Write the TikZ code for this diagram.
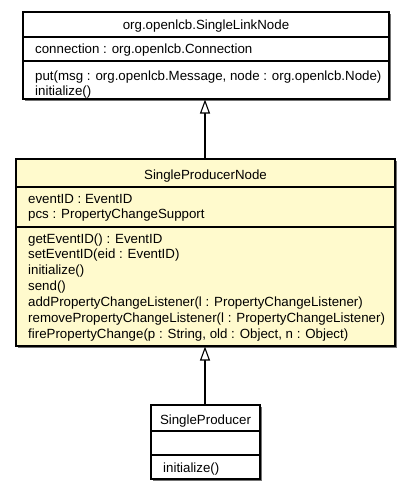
\documentclass[tikz,border=0pt]{standalone}
\usepackage{fontspec}
\setmainfont{Liberation Sans}
\usetikzlibrary{arrows.meta,shadows}
\definecolor{umlyellow}{RGB}{255,250,205}
\tikzset{
  classbox/.style={draw=black, line width=1.1pt, rectangle, inner sep=0pt,
    drop shadow={shadow xshift=1.6pt, shadow yshift=-1.6pt, fill=black!55, opacity=1}},
  divider/.style={draw=black, line width=1.1pt},
  txt/.style={inner sep=0pt, font=\fontsize{13.3}{15.5}\selectfont},
  inherit/.style={draw=black, line width=1.1pt, -{Triangle[open,length=14pt,width=10pt,fill=white]}}
}
\begin{document}
\begin{tikzpicture}[x=1pt,y=-1pt]
\useasboundingbox (0,0) rectangle (411,491);
% boxes
\node[classbox, fill=white, minimum width=366pt, minimum height=87pt] (b1) at (206,55.5) {};
\node[classbox, fill=umlyellow, minimum width=379pt, minimum height=187pt] (b2) at (205.5,252.5) {};
\node[classbox, fill=white, minimum width=109pt, minimum height=74pt] (b3) at (205.5,442) {};
% dividers
\draw[divider] (b1.west |- 0,37) -- (b1.east |- 0,37);
\draw[divider] (b1.west |- 0,61) -- (b1.east |- 0,61);
\draw[divider] (b2.west |- 0,187) -- (b2.east |- 0,187);
\draw[divider] (b2.west |- 0,227) -- (b2.east |- 0,227);
\draw[divider] (b3.west |- 0,431) -- (b3.east |- 0,431);
\draw[divider] (b3.west |- 0,455) -- (b3.east |- 0,455);
% box 1 texts
\node[txt, anchor=base] (t1) at (206,29.5) {org.openlcb.SingleLinkNode};
\node[txt, anchor=base west] (a11) at (35,53) {connection : org.openlcb.Connection};
\node[txt, anchor=base west] (m11) at (35,80) {put(msg : org.openlcb.Message, node : org.openlcb.Node)};
\node[txt, anchor=base west] (m12) at (35,95) {initialize()};
% box 2 texts
\node[txt, anchor=base] (t2) at (205.5,179.5) {SingleProducerNode};
\node[txt, anchor=base west] (a21) at (28,203.5) {eventID : EventID};
\node[txt, anchor=base west] (a22) at (28,218.5) {pcs : PropertyChangeSupport};
\node[txt, anchor=base west] (m21) at (28,243) {getEventID() : EventID};
\node[txt, anchor=base west] (m22) at (28,258.9) {setEventID(eid : EventID)};
\node[txt, anchor=base west] (m23) at (28,274.8) {initialize()};
\node[txt, anchor=base west] (m24) at (28,290.7) {send()};
\node[txt, anchor=base west] (m25) at (28,306.6) {addPropertyChangeListener(l : PropertyChangeListener)};
\node[txt, anchor=base west] (m26) at (28,322.5) {removePropertyChangeListener(l : PropertyChangeListener)};
\node[txt, anchor=base west] (m27) at (28,338.4) {firePropertyChange(p : String, old : Object, n : Object)};
% box 3 texts
\node[txt, anchor=base] (t3) at (205.5,424.5) {SingleProducer};
\node[txt, anchor=base west] (m31) at (163,472) {initialize()};
% connectors
\draw[inherit] (b2.north -| 205,0) -- (205,0 |- b1.south);
\draw[inherit] (b3.north -| 205,0) -- (205,0 |- b2.south);
\end{tikzpicture}
\end{document}
